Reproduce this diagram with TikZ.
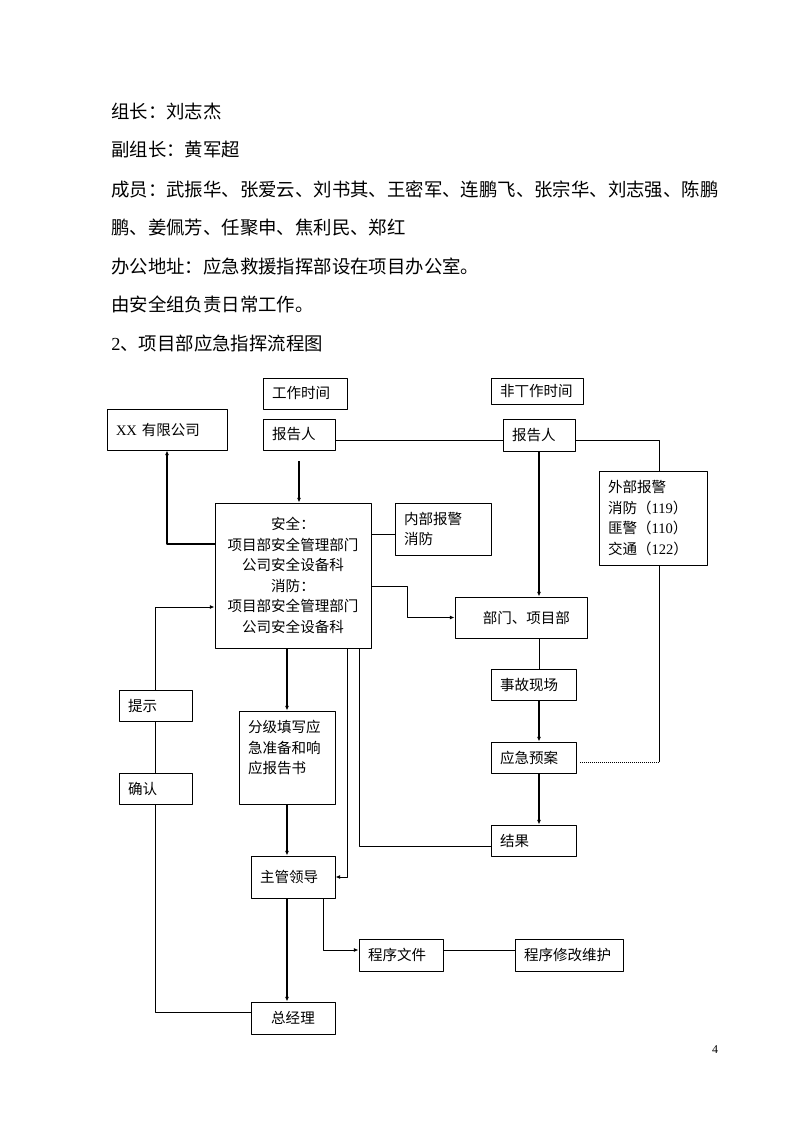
\documentclass[tikz,border=0pt]{standalone}
\usepackage{fontspec}
\setmainfont{Noto Sans CJK SC}
\newfontfamily\lat{Liberation Serif}
\usetikzlibrary{arrows.meta}
\newlength{\unitpx}
\setlength{\unitpx}{0.75pt}
\newcommand{\bodyfont}{\fontsize{13.8}{16.5}\selectfont}
\newcommand{\boxfont}{\fontsize{10.9}{15.4}\selectfont}

\begin{document}
\begin{tikzpicture}[x=\unitpx,y=-\unitpx,>={Latex[length=3.5pt,width=3pt]},line join=bevel,
  box/.style={draw,fill=white,line width=0.75pt,inner xsep=9\unitpx,inner ysep=0pt,align=left,font=\boxfont},
  flow/.style={line width=1.5pt},
  link/.style={line width=0.75pt},
  para/.style={anchor=west,inner sep=0pt,font=\bodyfont}]
  \fill[white] (0,0) rectangle (794,1123);
  \useasboundingbox (0,0) rectangle (794,1123);
%%
  % Text above the chart
  \node[para] (leader) at (111,112) {组长：刘志杰};
  \node[para] (deputy) at (111,150) {副组长：黄军超};
  \node[para] (members) at (111,189) {成员：武振华、张爱云、刘书其、王密军、连鹏飞、张宗华、刘志强、陈鹏};
  \node[para] (members2) at (111,228) {鹏、姜佩芳、任聚申、焦利民、郑红};
  \node[para] (office) at (111,266) {办公地址：应急救援指挥部设在项目办公室。};
  \node[para] (duty) at (111,304) {由安全组负责日常工作。};
  \node[para] (title) at (111,343) {{\lat 2}、项目部应急指挥流程图};
  % Node: work
  \node[box,text width=66\unitpx,minimum height=31\unitpx] (work) at (305,393.5) {工作时间};
  % Node: offwork
  \node[box,text width=74\unitpx,minimum height=26\unitpx] (offwork) at (537,391) {非丅作时间};
  % Node: repL
  \node[box,text width=54\unitpx,minimum height=31\unitpx] (repL) at (299,434.5) {报告人};
  % Node: repR
  \node[box,text width=54\unitpx,minimum height=32\unitpx] (repR) at (539,435) {报告人};
  % Node: company
  \node[box,text width=102\unitpx,minimum height=41\unitpx] (company) at (167,429.5) {{\lat XX} 有限公司};
  % Node: safety
  \node[box,text width=138\unitpx,minimum height=145\unitpx,align=center] (safety) at (293,575.5)
    {安全：\\项目部安全管理部门\\公司安全设备科\\消防：\\项目部安全管理部门\\公司安全设备科};
  % Node: inner
  \node[box,text width=78\unitpx,minimum height=52\unitpx] (inner) at (443,529) {内部报警\\消防};
  % Node: outer
  \node[box,text width=90\unitpx,minimum height=94\unitpx] (outer) at (653,518)
    {外部报警\\消防（{\lat 119}）\\匪警（{\lat 110}）\\交通（{\lat 122}）};
  % Node: dept
  \node[box,inner xsep=17\unitpx,text width=98\unitpx,minimum height=41\unitpx,align=right] (dept) at (521,617.5) {部门、项目部};
  % Node: scene
  \node[box,text width=67\unitpx,minimum height=31\unitpx] (scene) at (533.5,684.5) {事故现场};
  % Node: plan
  \node[box,text width=67\unitpx,minimum height=31\unitpx] (plan) at (533.5,757.5) {应急预案};
  % Node: result
  \node[box,text width=67\unitpx,minimum height=31\unitpx] (result) at (533.5,840.5) {结果};
  % Node: hint
  \node[box,text width=55\unitpx,minimum height=31\unitpx] (hint) at (155.5,705.5) {提示};
  % Node: confirm
  \node[box,text width=55\unitpx,minimum height=31\unitpx] (confirm) at (155.5,788.5) {确认};
  % Node: report
  \node[box,text width=78\unitpx,minimum height=93\unitpx] (report) at (287,757.5) {分级填写应\\急准备和响\\应报告书\\\mbox{}};
  % Node: lead
  \node[box,text width=66\unitpx,minimum height=42\unitpx] (lead) at (293,877) {主管领导};
  % Node: gm
  \node[box,text width=66\unitpx,minimum height=32\unitpx,align=center] (gm) at (293,1018) {总经理};
  % Node: docs
  \node[box,text width=66\unitpx,minimum height=32\unitpx] (docs) at (401,955) {程序文件};
  % Node: maint
  \node[box,text width=90\unitpx,minimum height=32\unitpx] (maint) at (569,955) {程序修改维护};
  % Edge: repL -> repR
  \draw[link] (repL.east |- 0,440) -- (repR.west |- 0,440);
  % Edge: repR -> outer
  \draw[link] (repR.east |- 0,440) -| (outer.north -| 659,0);
  % Edge: repL -> safety
  \draw[flow,->] ([yshift=-8pt]repL.south) -- (repL.south |- safety.north);
  % Edge: safety -> company
  \draw[flow,->] (safety.west |- 0,544) -| (company.south);
  % Edge: safety -> inner
  \draw[link] (safety.east |- 0,534) -- (inner.west |- 0,534);
  % Edge: safety -> dept
  \draw[link,->] (safety.east |- 0,586) -| (407,617.5) -- (dept.west);
  % Edge: repR -> dept
  \draw[flow,->] (repR.south) -- (repR.south |- dept.north);
  % Edge: dept -> scene
  \draw[link] (dept.south -| 539,0) -- (scene.north -| 539,0);
  % Edge: scene -> plan
  \draw[flow,->] (scene.south -| 539,0) -- (plan.north -| 539,0);
  % Edge: plan -> result
  \draw[flow,->] (plan.south -| 539,0) -- (result.north -| 539,0);
  % Edge: outer -> plan
  \coordinate (corner) at (659,762);
  \draw[link] (outer.south -| corner) -- (corner);
  \draw[link,dash pattern=on .75pt off .75pt] (corner) -- ([xshift=2pt]plan.east |- corner);
  % Edge: safety -> report
  \draw[flow,->] (report.north |- safety.south) -- (report.north);
  % Edge: safety -> result
  \draw[link] (safety.south -| 359,0) |- (result.west |- 0,846);
  % Edge: safety -> lead
  \draw[link,->] (safety.south -| 347,0) |- (lead.east);
  % Edge: report -> lead
  \draw[flow,->] (report.south) -- (report.south |- lead.north);
  % Edge: lead -> gm
  \draw[flow,->] (lead.south -| report.south) -- (gm.north -| report.south);
  % Edge: lead -> docs
  \draw[link,->] (lead.south -| 323,0) |- (docs.west |- 0,950);
  % Edge: docs -> maint
  \draw[link] (docs.east |- 0,950) -- (maint.west |- 0,950);
  % Edge: gm -> confirm -> hint -> safety
  \draw[link] (gm.west |- 0,1012) -| (confirm.south);
  \draw[link] (confirm.north) -- (hint.south);
  \draw[link,->] (hint.north) |- (safety.west |- 0,607);
  % page number
  \node[font=\lat\fontsize{9}{10}\selectfont,inner sep=0pt] (page) at (715,1050) {4};
%
\end{tikzpicture}
\end{document}
